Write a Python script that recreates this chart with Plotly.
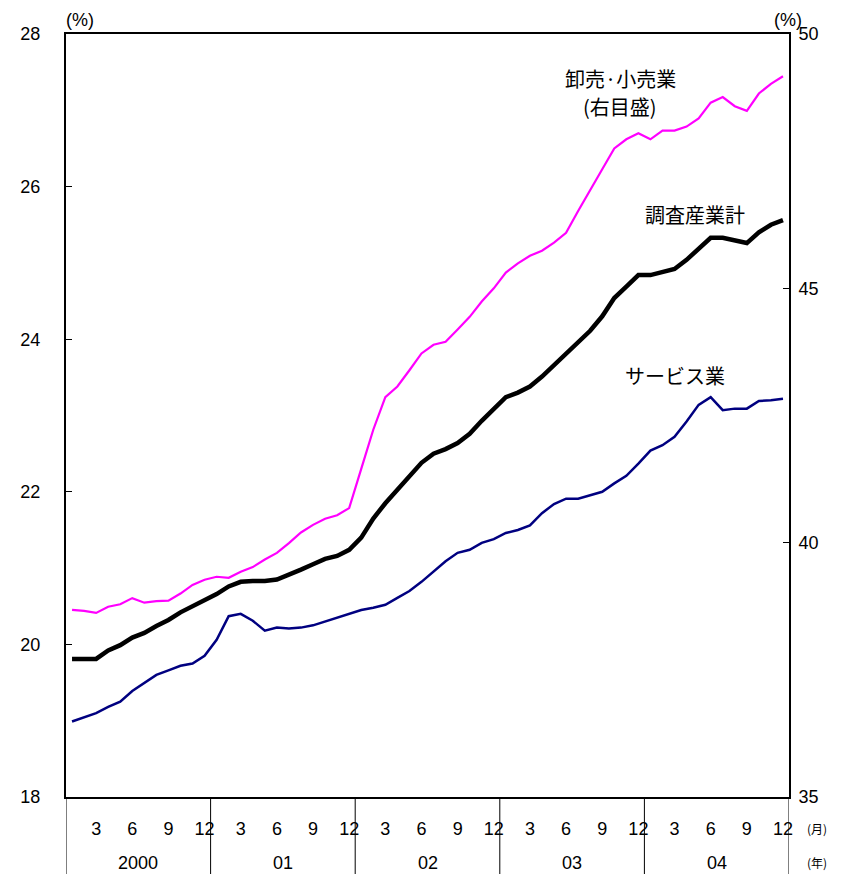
import plotly.graph_objects as go

# 2000-01 .. 2004-12, monthly (60 points)
years = ["2000", "01", "02", "03", "04"]
month_ticks = ["3", "6", "9", "12"]

# 調査産業計 (left axis, %)
total = [
    19.81, 19.81, 19.81, 19.92, 19.99, 20.09, 20.15, 20.24, 20.32, 20.42, 20.50, 20.57,
    20.66, 20.76, 20.82, 20.83, 20.83, 20.85, 20.91, 20.98, 21.05, 21.12, 21.16, 21.24,
    21.40, 21.65, 21.85, 22.02, 22.20, 22.38, 22.50, 22.56, 22.64, 22.76, 22.93, 23.08,
    23.24, 23.30, 23.38, 23.51, 23.66, 23.79, 23.94, 24.11, 24.30, 24.54, 24.69, 24.84,
    24.84, 24.88, 24.92, 25.04, 25.18, 25.33, 25.33, 25.30, 25.26, 25.40, 25.50, 25.56,
]

# サービス業 (left axis, %)
services = [
    18.99, 19.04, 19.10, 19.18, 19.25, 19.39, 19.49, 19.60, 19.66, 19.72, 19.75, 19.85,
    20.06, 20.37, 20.40, 20.31, 20.18, 20.22, 20.21, 20.22, 20.25, 20.30, 20.36, 20.41,
    20.45, 20.48, 20.52, 20.61, 20.70, 20.82, 20.96, 21.09, 21.20, 21.24, 21.33, 21.38,
    21.46, 21.50, 21.56, 21.72, 21.84, 21.91, 21.91, 21.95, 22.00, 22.11, 22.21, 22.37,
    22.54, 22.61, 22.72, 22.92, 23.14, 23.24, 23.07, 23.09, 23.09, 23.19, 23.20, 23.22,
]

# 卸売・小売業 (right axis, %)
wholesale = [
    38.68, 38.66, 38.62, 38.74, 38.79, 38.91, 38.82, 38.85, 38.86, 39.00, 39.17, 39.27,
    39.33, 39.31, 39.43, 39.52, 39.67, 39.80, 39.99, 40.20, 40.35, 40.47, 40.54, 40.68,
    41.45, 42.22, 42.86, 43.07, 43.39, 43.72, 43.89, 43.95, 44.19, 44.44, 44.74, 45.00,
    45.31, 45.49, 45.64, 45.74, 45.90, 46.09, 46.52, 46.94, 47.34, 47.75, 47.93, 48.05,
    47.93, 48.10, 48.10, 48.18, 48.34, 48.65, 48.76, 48.58, 48.49, 48.83, 49.02, 49.17,
]

x = list(range(len(total)))
n_years = len(years)

tickvals = [y * 12 + int(m) - 1 for y in range(n_years) for m in month_ticks]
ticktext = [m for _ in range(n_years) for m in month_ticks]

NUM_FONT = "Liberation Sans Narrow, Liberation Sans, Arial, sans-serif"
JP_FONT = "Noto Sans CJK JP, sans-serif"

fig = go.Figure()

fig.add_trace(go.Scatter(x=x, y=wholesale, yaxis="y2", mode="lines",
                         line=dict(color="#ff00ff", width=2.2), showlegend=False))
fig.add_trace(go.Scatter(x=x, y=total, mode="lines",
                         line=dict(color="#000000", width=4.5), showlegend=False))
fig.add_trace(go.Scatter(x=x, y=services, mode="lines",
                         line=dict(color="#000080", width=2.5), showlegend=False))

# year separators below the axis
shapes = []
for k in range(n_years + 1):
    shapes.append(dict(type="line", xref="x", yref="paper",
                       x0=k * 12 - 0.5, x1=k * 12 - 0.5, y0=0, y1=-0.13,
                       line=dict(color="black", width=1)))

annotations = []
for k, yr in enumerate(years):
    annotations.append(dict(x=k * 12 + 5.5, y=-0.086, xref="x", yref="paper",
                            text=yr, showarrow=False, yanchor="middle",
                            font=dict(family=NUM_FONT, size=18, color="black")))

annotations += [
    dict(x=1.055, y=-0.041, xref="paper", yref="paper", text="(月)", showarrow=False,
         yanchor="middle", font=dict(family=JP_FONT, size=12, color="black")),
    dict(x=1.055, y=-0.086, xref="paper", yref="paper", text="(年)", showarrow=False,
         yanchor="middle", font=dict(family=JP_FONT, size=12, color="black")),
    dict(x=0.0, y=1.0, xref="paper", yref="paper", text="(%)", showarrow=False,
         xanchor="left", yanchor="bottom", yshift=2, xshift=-2,
         font=dict(family=NUM_FONT, size=18, color="black")),
    dict(x=1.0, y=1.0, xref="paper", yref="paper", text="(%)", showarrow=False,
         xanchor="right", yanchor="bottom", yshift=2, xshift=15,
         font=dict(family=NUM_FONT, size=18, color="black")),
    dict(x=45.5, y=49.12, xref="x", yref="y2", text="卸売·小売業",
         showarrow=False, font=dict(family=JP_FONT, size=20, color="black")),
    dict(x=45.5, y=48.58, xref="x", yref="y2", text="(右目盛)",
         showarrow=False, font=dict(family=JP_FONT, size=20, color="black")),
    dict(x=51.7, y=25.63, xref="x", yref="y", text="調査産業計",
         showarrow=False, font=dict(family=JP_FONT, size=20, color="black")),
    dict(x=50.0, y=23.53, xref="x", yref="y", text="サービス業",
         showarrow=False, font=dict(family=JP_FONT, size=20, color="black")),
]

fig.update_layout(
    width=849, height=874,
    margin=dict(l=55, r=68, t=26, b=85),
    paper_bgcolor="white", plot_bgcolor="white",
    xaxis=dict(
        range=[-0.5, 59.5], showgrid=False, zeroline=False,
        showline=True, linecolor="black", linewidth=2, mirror=True,
        tickmode="array", tickvals=tickvals, ticktext=ticktext, ticks="",
        ticklabelstandoff=14,
        tickfont=dict(family=NUM_FONT, size=18, color="black"),
    ),
    yaxis=dict(
        range=[18, 28], dtick=2, showgrid=False, zeroline=False,
        showline=True, linecolor="black", linewidth=2,
        ticks="inside", ticklen=6, tickcolor="black",
        ticklabelstandoff=20,
        tickfont=dict(family=NUM_FONT, size=18, color="black"),
    ),
    yaxis2=dict(
        range=[35, 50], dtick=5, overlaying="y", side="right",
        showgrid=False, zeroline=False,
        showline=True, linecolor="black", linewidth=2,
        ticks="inside", ticklen=6, tickcolor="black",
        ticklabelstandoff=4,
        tickfont=dict(family=NUM_FONT, size=18, color="black"),
    ),
    shapes=shapes,
    annotations=annotations,
)

fig.write_html("out.html")
